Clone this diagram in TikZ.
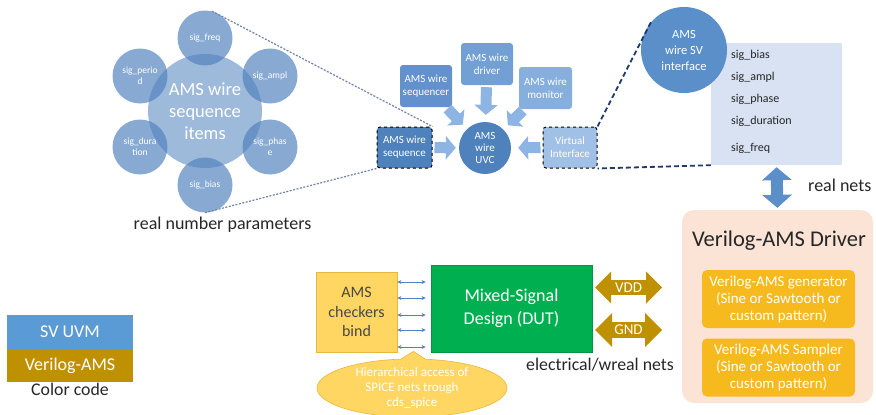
\documentclass[tikz,border=0pt]{standalone}
\usepackage{fontspec}
\setmainfont{Carlito}
\usetikzlibrary{arrows.meta,shapes.arrows,shapes.callouts,shapes.geometric,calc}

\definecolor{ink}{RGB}{38,38,38}
\definecolor{bubble}{RGB}{79,129,189}
\definecolor{uvmdark}{RGB}{79,129,189}
\definecolor{seqrfill}{RGB}{98,145,205}
\definecolor{drvfill}{RGB}{115,160,212}
\definecolor{monfill}{RGB}{135,175,222}
\definecolor{vifill}{RGB}{160,192,230}
\definecolor{blkarrow}{RGB}{141,180,226}
\definecolor{sviffill}{RGB}{91,143,201}
\definecolor{sigfill}{RGB}{216,226,242}
\definecolor{navy}{RGB}{31,56,110}
\definecolor{dotgrey}{RGB}{110,130,170}
\definecolor{peach}{RGB}{251,228,213}
\definecolor{gold}{RGB}{246,186,30}
\definecolor{chkfill}{RGB}{255,214,98}
\definecolor{chkline}{RGB}{232,184,60}
\definecolor{dutgreen}{RGB}{0,176,80}
\definecolor{dutline}{RGB}{0,150,70}
\definecolor{olive}{RGB}{191,144,0}
\definecolor{svuvm}{RGB}{91,155,213}

\begin{document}
\begin{tikzpicture}[x=1pt,y=-1pt,
  every node/.style={text=ink},
  bub/.style={circle, fill=bubble, fill opacity=0.68, text opacity=1, text=white,
    inner sep=0pt, minimum size=55pt, align=center, font=\fontsize{9.5}{11}\selectfont},
  uvmbox/.style={rectangle, rounded corners=3pt, minimum width=52pt, minimum height=42pt,
    align=center, text=white, inner sep=1pt, font=\fontsize{11}{13}\selectfont},
  blk/.style={line width=11pt, blkarrow, -{Triangle[width=23pt,length=10pt]},
    shorten <=2pt},
  dotline/.style={dotgrey, line width=1.2pt, dash pattern=on 2pt off 1.5pt},
  navydash/.style={navy, line width=1.8pt, dash pattern=on 5pt off 3pt},
  goldbox/.style={rectangle, rounded corners=5pt, fill=gold, text=white, align=center,
    minimum width=153pt, minimum height=58pt, inner sep=1pt,
    font=\fontsize{15}{17}\selectfont},
  rail/.style={double arrow, fill=olive, text=white, inner sep=0pt,
    double arrow head extend=6pt, double arrow head indent=0pt,
    minimum height=67pt, font=\fontsize{15}{16}\selectfont},
  tinyarrow/.style={uvmdark, line width=0.8pt, {Stealth[length=4pt,width=4pt]}-{Stealth[length=4pt,width=4pt]}},
  sigtxt/.style={anchor=west, inner sep=0pt, font=\fontsize{12}{14}\selectfont},
  legend/.style={rectangle, minimum width=126pt, inner sep=0pt, text=white,
    font=\fontsize{18}{20}\selectfont}
]
\useasboundingbox (0,0) rectangle (876,415);

% ---- sequence item bubbles ----
\node[bub, minimum size=114pt, fill opacity=0.55, font=\fontsize{18.5}{22}\selectfont]
  (items) at (205,111) {AMS wire\\sequence\\items};
\node[bub] (freq)   at (205,38)  {sig\_freq};
\node[bub] (ampl)   at (270,76)  {sig\_ampl};
\node[bub] (phase)  at (270,147) {sig\_phas\\e};
\node[bub] (bias)   at (205,185) {sig\_bias};
\node[bub] (dur)    at (140,147) {sig\_dura\\tion};
\node[bub] (period) at (140,76)  {sig\_perio\\d};
\node[font=\fontsize{18}{20}\selectfont] (rnp) at (222.5,225) {real number parameters};

% ---- UVC cluster ----
\node[uvmbox, fill=uvmdark, draw=black, dashed, line width=1pt, minimum width=55pt,
  minimum height=41pt] (seq) at (404.5,147.5) {AMS wire\\sequence};
\node[circle, fill=uvmdark, text=white, minimum size=52pt, inner sep=0pt, align=center,
  font=\fontsize{11}{12}\selectfont] (uvc) at (485,148) {AMS\\wire\\UVC};
\node[uvmbox, fill=seqrfill] (seqr) at (426,86) {AMS wire\\sequencer};
\node[uvmbox, fill=drvfill] (drv) at (487,64) {AMS wire\\driver};
\node[uvmbox, fill=monfill, minimum width=53pt] (mon) at (545.5,88) {AMS wire\\monitor};
\node[uvmbox, fill=vifill, draw=black, dashed, line width=1pt, minimum width=54pt,
  minimum height=41pt] (vi) at (570,147.5) {Virtual\\Interface};

\draw[blk, shorten >=6pt] (seqr) -- (uvc);
\draw[blk, shorten >=7pt] (drv) -- (uvc);
\draw[blk, shorten >=6pt] (mon) -- (uvc);
\draw[blk, shorten >=3pt] (seq) -- (uvc);
\draw[blk, shorten >=7pt] (vi) -- (uvc);

\draw[dotline] (freq.75) -- (seq.north east);
\draw[dotline] (bias.south) -- (seq.south west);

% ---- SV interface ----
\node[rectangle, fill=sigfill, minimum width=131pt, minimum height=122pt, inner sep=0pt]
  (sigs) at (776.5,104) {};
\node[circle, fill=sviffill, text=white, minimum size=86pt, inner sep=0pt, align=center,
  font=\fontsize{12.5}{16}\selectfont] (svif) at (684,50) {AMS\\wire SV\\interface};
\node[sigtxt] (s1) at (731,55)  {sig\_bias};
\node[sigtxt] (s2) at (731,77)  {sig\_ampl};
\node[sigtxt] (s3) at (731,99)  {sig\_phase};
\node[sigtxt] (s4) at (731,121) {sig\_duration};
\node[sigtxt] (s5) at (731,148) {sig\_freq};

\draw[navydash] (svif.140) -- (vi.north east);
\draw[navydash] (sigs.south west) -- (vi.south east);

% ---- Verilog-AMS driver ----
\node[rectangle, rounded corners=12pt, fill=peach, minimum width=191pt,
  minimum height=193pt, inner sep=0pt] (drvbox) at (777.5,306.5) {};
\node[font=\fontsize{22.5}{25}\selectfont] (drvtitle) at (779,241) {Verilog-AMS Driver};
\node[goldbox] (gen)  at (778.5,299)   {Verilog-AMS generator\\(Sine or Sawtooth or\\custom pattern)};
\node[goldbox] (samp) at (778.5,367.5) {Verilog-AMS Sampler\\(Sine or Sawtooth or\\custom pattern)};

\draw[sviffill, line width=12pt, {Triangle[width=29pt,length=13pt]}-{Triangle[width=29pt,length=13pt]},
  shorten <=2pt, shorten >=2pt] (sigs.south) -- (drvbox.north);
\node[font=\fontsize{18}{20}\selectfont, anchor=west, inner sep=0pt] (rn) at (808,185) {real nets};

% ---- DUT and checkers ----
\node[rectangle, fill=chkfill, draw=chkline, line width=0.8pt, minimum width=81pt,
  minimum height=80pt, align=center, inner sep=0pt, text=ink!85,
  font=\fontsize{16}{19.5}\selectfont] (chk) at (356.5,312) {AMS\\checkers\\bind};
\node[rectangle, fill=dutgreen, draw=dutline, line width=0.8pt, minimum width=161pt,
  minimum height=87pt, align=center, text=white,
  font=\fontsize{18}{23}\selectfont] (dut) at (511.5,308.5) {Mixed-Signal\\Design (DUT)};

\foreach \dy in {-30,-14,3,18,35}
  \draw[tinyarrow, shorten >=5pt] ($(chk.east)+(0,\dy)$) -- ($(chk.east -| dut.west)+(0,\dy)$);

\node[rail, minimum width=32pt] (vdd) at (628.5,287.5) {VDD};
\node[rail, minimum width=34pt] (gnd) at (628.5,330) {GND};
\node[font=\fontsize{17.8}{20}\selectfont, anchor=west, inner sep=0pt] (enets) at (526,365) {electrical/wreal nets};

\node[ellipse callout, fill=chkfill, draw=chkline, line width=0.6pt, minimum width=190pt,
  minimum height=55pt, inner sep=0pt, align=center, text=white,
  callout absolute pointer={($(chk.south east)+(16,-1)$)},
  font=\fontsize{13}{15}\selectfont] (note) at (412,388)
  {Hierarchical access of\\SPICE nets trough\\cds\_spice};

% ---- colour legend ----
\node[legend, fill=svuvm, minimum height=34pt] (lsv) at (70,332) {SV UVM};
\node[legend, fill=olive, minimum height=33pt, anchor=north] (lva) at (lsv.south) {Verilog-AMS};
\node[font=\fontsize{17.8}{19}\selectfont, anchor=north, inner sep=0pt] (lcc) at (lva.south) {Color code};
\end{tikzpicture}
\end{document}
